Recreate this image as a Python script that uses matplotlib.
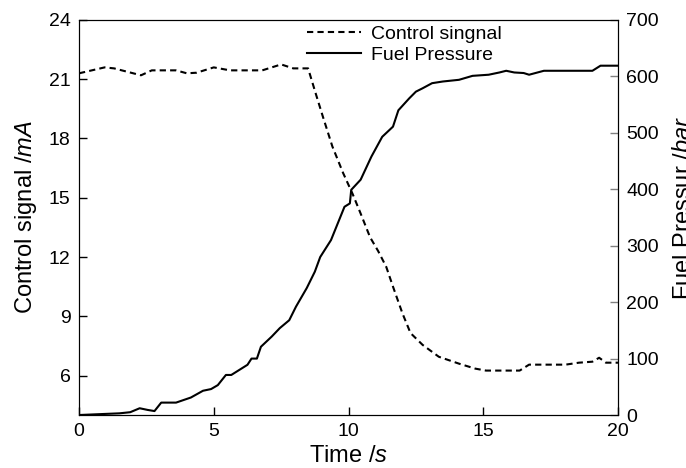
import matplotlib
matplotlib.use("Agg")
import matplotlib.pyplot as plt

plt.rcParams['font.family'] = ['Liberation Sans', 'DejaVu Sans']
plt.rcParams['mathtext.fontset'] = 'custom'
plt.rcParams['mathtext.rm'] = 'Liberation Sans'
plt.rcParams['mathtext.it'] = 'Liberation Sans:italic'

# Control signal (left axis, mA)
t_ctrl = [0.0, 0.95, 1.3, 2.3, 2.7, 3.6, 4.0, 4.36, 5.0, 5.6, 6.8, 7.5, 7.95,
          8.5, 8.8, 9.05, 9.4, 9.8, 10.15, 10.45, 10.8, 11.1, 11.4, 11.65,
          12.0, 12.3, 12.75, 13.35, 14.1, 14.7, 15.1, 16.35, 16.7, 18.05,
          18.55, 19.05, 19.3, 19.55, 20.0]
ctrl = [21.3, 21.6, 21.55, 21.2, 21.45, 21.45, 21.3, 21.33, 21.6, 21.45,
        21.45, 21.75, 21.55, 21.55, 20.2, 19.1, 17.6, 16.25, 15.2, 14.2,
        13.0, 12.3, 11.5, 10.5, 9.15, 8.15, 7.55, 6.95, 6.6, 6.35, 6.25,
        6.25, 6.55, 6.55, 6.65, 6.7, 6.9, 6.65, 6.65]

# Fuel pressure (right axis, bar)
t_pres = [0.0, 1.5, 1.9, 2.25, 2.55, 2.8, 3.05, 3.6, 4.15, 4.6, 4.9, 5.15,
          5.45, 5.65, 6.25, 6.4, 6.6, 6.75, 7.15, 7.45, 7.8, 8.05, 8.45,
          8.75, 8.95, 9.35, 9.85, 10.05, 10.1, 10.45, 10.85, 11.25, 11.65,
          11.85, 12.25, 12.5, 12.75, 13.1, 13.5, 14.1, 14.6, 15.2, 15.6,
          15.85, 16.15, 16.5, 16.7, 17.25, 19.05, 19.35, 20.0]
pres = [0, 3, 5, 12, 9, 7, 22, 22, 31, 43, 46, 53, 71, 71, 89, 100, 100,
        121, 139, 154, 168, 192, 225, 254, 280, 310, 369, 375, 399, 417,
        458, 493, 511, 540, 561, 573, 579, 588, 591, 594, 601, 603, 607,
        610, 607, 606, 603, 610, 610, 619, 619]

fig = plt.figure(figsize=(6.86, 4.68), dpi=100)
ax = fig.add_axes([0.1152, 0.1132, 0.7857, 0.8441])
ax2 = ax.twinx()

l1, = ax.plot(t_ctrl, ctrl, color='black', lw=1.5, ls=(0, (3, 2)),
              label='Control singnal')
l2, = ax2.plot(t_pres, pres, color='black', lw=1.5, label='Fuel Pressure')

ax.set_xlim(0, 20)
ax.set_ylim(4, 24)
ax.set_xticks([0, 5, 10, 15, 20])
ax.set_yticks([6, 9, 12, 15, 18, 21, 24])
ax2.set_ylim(0, 700)
ax2.set_yticks(range(0, 701, 100))

ax.tick_params(axis='both', direction='in', length=6, width=1, labelsize=14,
               top=False, pad=6)
ax2.tick_params(axis='y', direction='in', length=6, width=1, labelsize=14,
                color='grey', pad=6)

ax.set_xlabel(r'Time /$s$', fontsize=17, labelpad=3)
ax.set_ylabel(r'Control signal /$mA$', fontsize=17, labelpad=7)
fig.text(0.981, 0.555, r'Fuel Pressur /$bar$', fontsize=17, rotation=90,
         ha='left', va='center')

ax.legend(handles=[l1, l2], loc='upper left', bbox_to_anchor=(0.433, 0.966),
          bbox_transform=fig.transFigure, frameon=False, fontsize=14,
          handlelength=2.8, handletextpad=0.5, borderpad=0, labelspacing=0.15)

fig.savefig('out.png', dpi=100)
